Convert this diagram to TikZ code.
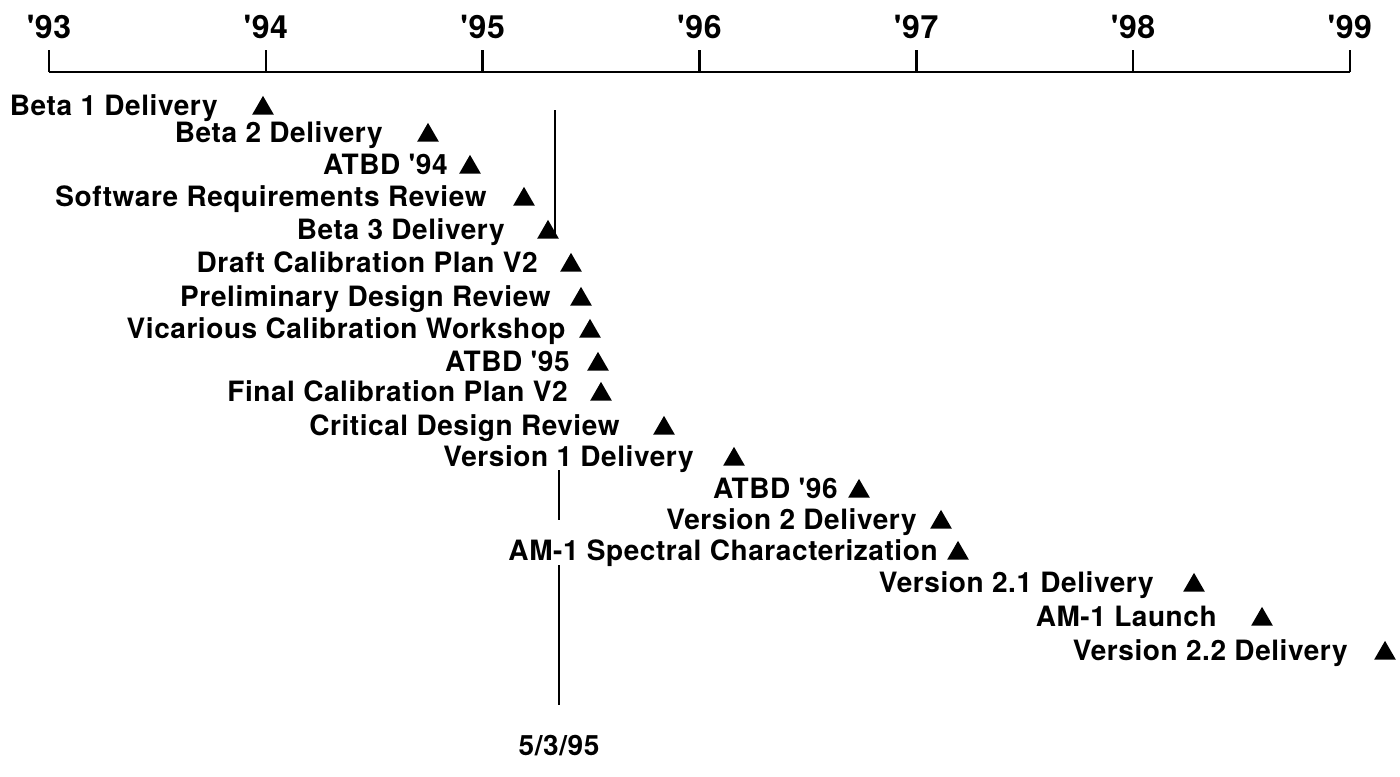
\documentclass[tikz,border=0pt]{standalone}
\usepackage{fontspec}
\setmainfont{TeX Gyre Heros}[Ligatures=TeXOff, LetterSpace=2]
\usetikzlibrary{shapes.geometric, positioning}

\begin{document}
\begin{tikzpicture}[x=0.5pt, y=-0.5pt,
    axis/.style={line width=1.3pt},
    year/.style={anchor=base, inner sep=0pt, font=\bfseries\fontsize{16}{19}\selectfont},
    event/.style={anchor=base east, inner sep=0pt, font=\bfseries\fontsize{14}{16}\selectfont},
    milestone/.style={regular polygon, regular polygon sides=3, fill=black, inner sep=0pt, minimum size=12.5pt, anchor=south}]
    \useasboundingbox (0,0) rectangle (1400,776);

    \foreach \yr [count=\i from 0] in {93,...,99} {
        \coordinate (t\yr) at (49+216.8*\i,72);
        \coordinate (h\yr) at (49+216.8*\i,50);
        \draw[axis] (t\yr) -- (h\yr);
        \node[year] (y\yr) at (49+216.8*\i,39) {'\yr};
    }
    \draw[axis] (t93) -- (t99);

    \foreach \n/\tx/\mx/\yb/\txt in {
        1/218/263/115/Beta 1 Delivery,
        2/383/428/142/Beta 2 Delivery,
        3/448/470/174/ATBD '94,
        4/487/524/206/Software Requirements Review,
        5/505/548/239/Beta 3 Delivery,
        6/538/571/272/Draft Calibration Plan V2,
        7/551/581/306/Preliminary Design Review,
        8/566/590/338/Vicarious Calibration Workshop,
        9/570/598/371/ATBD '95,
        10/568/601/401/Final Calibration Plan V2,
        11/620/664/435/Critical Design Review,
        12/694/734/466/Version 1 Delivery,
        13/838/859/498/ATBD '96,
        14/917/941/529/Version 2 Delivery,
        15/938/958/560/AM-1 Spectral Characterization,
        16/1154/1194/592/Version 2.1 Delivery,
        17/1217/1262/626/AM-1 Launch,
        18/1348/1385/660/Version 2.2 Delivery} {
        \node[event] (e\n) at (\tx,\yb) {\txt};
        \node[milestone] (m\n) at (\mx,\yb) {};
    }

    \coordinate (d1) at (555,110);
    \coordinate (d2) at (555,234);
    \coordinate (d3) at (559,470);
    \coordinate (d4) at (559,520);
    \coordinate (d5) at (559,565);
    \coordinate (d6) at (559,705);
    \node[event, anchor=base] (date) at (559,755) {5/3/95};
    \draw[line width=1.2pt] (d1) -- (d2);
    \draw[line width=1.2pt] (d3) -- (d4);
    \draw[line width=1.2pt] (d5) -- (d6);
\end{tikzpicture}
\end{document}
